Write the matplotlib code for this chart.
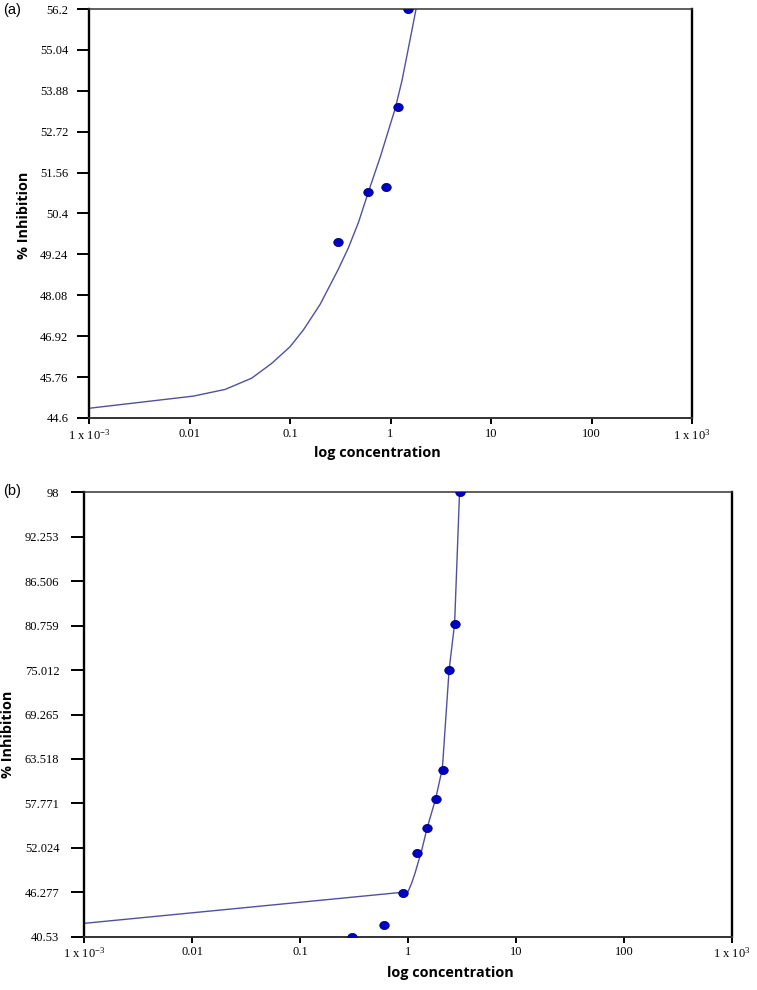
import matplotlib
matplotlib.use('Agg')
import matplotlib.pyplot as plt
from matplotlib.path import Path

plt.rcParams['mathtext.fontset'] = 'custom'
plt.rcParams['mathtext.rm'] = 'Liberation Serif'
plt.rcParams['mathtext.it'] = 'Liberation Serif'

# panel (a)
conc_a = [0.3, 0.6, 0.9, 1.2, 1.5]
inhib_a = [49.60, 51.01, 51.14, 53.41, 56.2]
fit_x_a = [0.001, 0.0109, 0.0226, 0.0416, 0.0658, 0.1, 0.136, 0.199, 0.30, 0.38, 0.48, 0.602,
           0.8, 1.0, 1.109, 1.3, 1.449, 1.62, 1.794]
fit_y_a = [44.875, 45.22, 45.41, 45.73, 46.15, 46.62, 47.10, 47.82, 48.80, 49.42, 50.15, 51.01,
           52.05, 52.95, 53.36, 54.17, 54.85, 55.55, 56.2]
yticks_a = ['44.6', '45.76', '46.92', '48.08', '49.24', '50.4', '51.56', '52.72', '53.88', '55.04', '56.2']

# panel (b)
conc_b = [0.3, 0.6, 0.9, 1.2, 1.5, 1.8, 2.1, 2.4, 2.7, 3.0]
inhib_b = [40.53, 42.04, 46.22, 51.39, 54.55, 58.34, 62.13, 75.02, 81.01, 98.0]
fit_x_b = [0.001, 1.0, 1.08, 1.16, 1.34, 1.5, 1.8, 2.08, 2.4, 2.7, 3.0]
fit_y_b = [42.26, 46.35, 47.45, 48.73, 51.74, 54.55, 58.34, 62.3, 75.02, 81.01, 98.0]
yticks_b = ['40.53', '46.277', '52.024', '57.771', '63.518', '69.265', '75.012', '80.759', '86.506', '92.253', '98']

xtick_vals = [1e-3, 1e-2, 1e-1, 1, 10, 100, 1e3]
xtick_labels = ['1 x 10$^{-3}$', '0.01', '0.1', '1', '10', '100', '1 x 10$^{3}$']

line_col = '#5050a0'
dot_col = '#0000c4'
circ = Path.unit_circle()
ell = Path(circ.vertices * [1, 0.86], circ.codes)

serif = 'Liberation Serif'
bold_sans = 'Open Sans'


def draw_panel(ax, cx, cy, fx, fy, ylabels, ylab_pos, xlab_pos, ypad, ylen):
    ax.plot(fx, fy, c=line_col, lw=1.0, zorder=2)
    ax.plot(cx, cy, ls='none', marker=ell, ms=6.8, mfc=dot_col, mec='#00007a', mew=0.6, zorder=3)
    ax.set_xscale('log')
    ax.set_xlim(1e-3, 1e3)
    yv = [float(v) for v in ylabels]
    ax.set_ylim(yv[0], yv[-1])
    ax.set_yticks(yv)
    ax.set_yticklabels(ylabels, fontfamily=serif, fontsize=9)
    ax.set_xticks(xtick_vals)
    ax.set_xticklabels(xtick_labels, fontfamily=serif, fontsize=9)
    ax.minorticks_off()
    ax.tick_params(axis='y', direction='out', length=ylen, width=1.4, pad=ypad, colors='black')
    ax.tick_params(axis='x', direction='out', length=4.5, width=1.4, pad=2.5, colors='black')
    for s in ['left', 'right']:
        ax.spines[s].set_linewidth(1.7)
        ax.spines[s].set_color('black')
    ax.spines['top'].set_linewidth(1.1)
    ax.spines['top'].set_color('#333333')
    ax.spines['bottom'].set_linewidth(1.4)
    ax.spines['bottom'].set_color('#333333')
    ax.set_ylabel('% Inhibition', fontfamily=bold_sans, fontweight='bold', fontsize=10.4)
    ax.set_xlabel('log concentration', fontfamily=bold_sans, fontweight='bold', fontsize=10.4)
    ax.yaxis.set_label_coords(*ylab_pos)
    ax.xaxis.set_label_coords(*xlab_pos)


fig = plt.figure(figsize=(7.57, 9.9), dpi=100)
ax1 = fig.add_axes([0.1176, 0.5778, 0.7966, 0.4131])
ax2 = fig.add_axes([0.1110, 0.0538, 0.8560, 0.4489])

draw_panel(ax1, conc_a, inhib_a, fit_x_a, fit_y_a, yticks_a,
           (-0.096, 0.496), (0.479, -0.068), 6.3, 8.6)
draw_panel(ax2, conc_b, inhib_b, fit_x_b, fit_y_b, yticks_b,
           (-0.106, 0.456), (0.566, -0.066), 8.4, 9.3)

fig.text(3 / 757, 1 - 10 / 990, '(a)', fontfamily='Liberation Sans', fontsize=10.5, va='center', ha='left')
fig.text(3 / 757, 1 - 491 / 990, '(b)', fontfamily='Liberation Sans', fontsize=10.5, va='center', ha='left')

fig.savefig('out.png', dpi=100)
